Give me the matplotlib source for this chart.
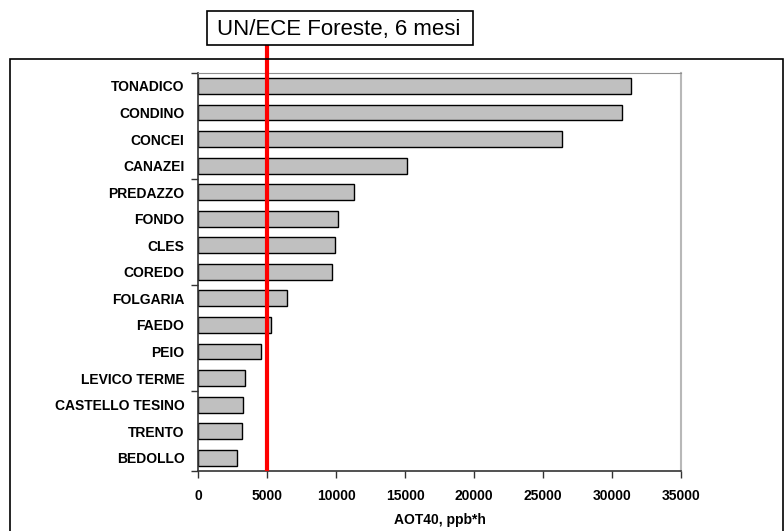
import matplotlib.pyplot as plt
from matplotlib.patches import Rectangle

# stations and AOT40 values (ppb*h)
stations = ["TONADICO", "CONDINO", "CONCEI", "CANAZEI", "PREDAZZO", "FONDO", "CLES",
            "COREDO", "FOLGARIA", "FAEDO", "PEIO", "LEVICO TERME", "CASTELLO TESINO",
            "TRENTO", "BEDOLLO"]
aot40 = [31400, 30700, 26350, 15150, 11300, 10100, 9920,
         9720, 6450, 5270, 4550, 3370, 3220, 3150, 2800]
threshold = 5000
threshold_label = "UN/ECE Foreste, 6 mesi"
xticks = [0, 5000, 10000, 15000, 20000, 25000, 30000, 35000]

plt.rcParams['font.family'] = ['Liberation Sans', 'DejaVu Sans']

W, H = 784, 531
fig = plt.figure(figsize=(W / 100, H / 100), dpi=100)
ax = fig.add_axes([198.3 / W, 1 - 471 / H, (681 - 198.3) / W, (471 - 72.7) / H])

ypos = list(range(len(stations)))
ax.barh(ypos, aot40, height=0.6, color='#c0c0c0', edgecolor='black', linewidth=1, zorder=2)
ax.set_ylim(len(stations) - 0.5, -0.5)
ax.set_xlim(0, 35000)

ax.set_yticks(ypos)
ax.set_yticklabels(stations, fontsize=10, fontweight='bold')
ax.tick_params(axis='y', length=0, pad=10)
ax.set_yticks([-0.5, 3.5, 7.5, 11.5, 14.5], minor=True)
ax.tick_params(axis='y', which='minor', length=5, width=1, color='#333333')

ax.set_xticks(xticks)
ax.set_xticklabels([str(v) for v in xticks], fontsize=10, fontweight='bold')
ax.tick_params(axis='x', length=5, width=1, color='#333333', pad=8)
ax.set_xlabel("AOT40, ppb*h", fontsize=10, fontweight='bold', va='center')
ax.xaxis.set_label_coords(0.5, -(520 - 471) / (471 - 72.7))

for s in ['left', 'bottom']:
    ax.spines[s].set_color('#333333')
    ax.spines[s].set_linewidth(1.2)
ax.spines['top'].set_color('#909090')
ax.spines['right'].set_color('#b8b8b8')
ax.spines['right'].set_linewidth(1.5)

# threshold line running up to the label box
ax.axvline(threshold, ymin=0.005, ymax=(471 - 43) / (471 - 72.7), color='red',
           linewidth=3, clip_on=False, zorder=3)

# outer frame
fig.patches.append(Rectangle((10 / W, -0.05), (783 - 10) / W, 1.05 - 59 / H,
                             transform=fig.transFigure, fill=False,
                             edgecolor='black', linewidth=1.2))
# label box
fig.patches.append(Rectangle((207 / W, 1 - 45 / H), (473 - 207) / W, (45 - 11) / H,
                             transform=fig.transFigure, facecolor='white',
                             edgecolor='black', linewidth=1.2, zorder=4))
fig.text(339 / W, 1 - 29 / H, threshold_label, fontsize=16, ha='center', va='center',
         zorder=5)

fig.savefig("out.png", dpi=100)
